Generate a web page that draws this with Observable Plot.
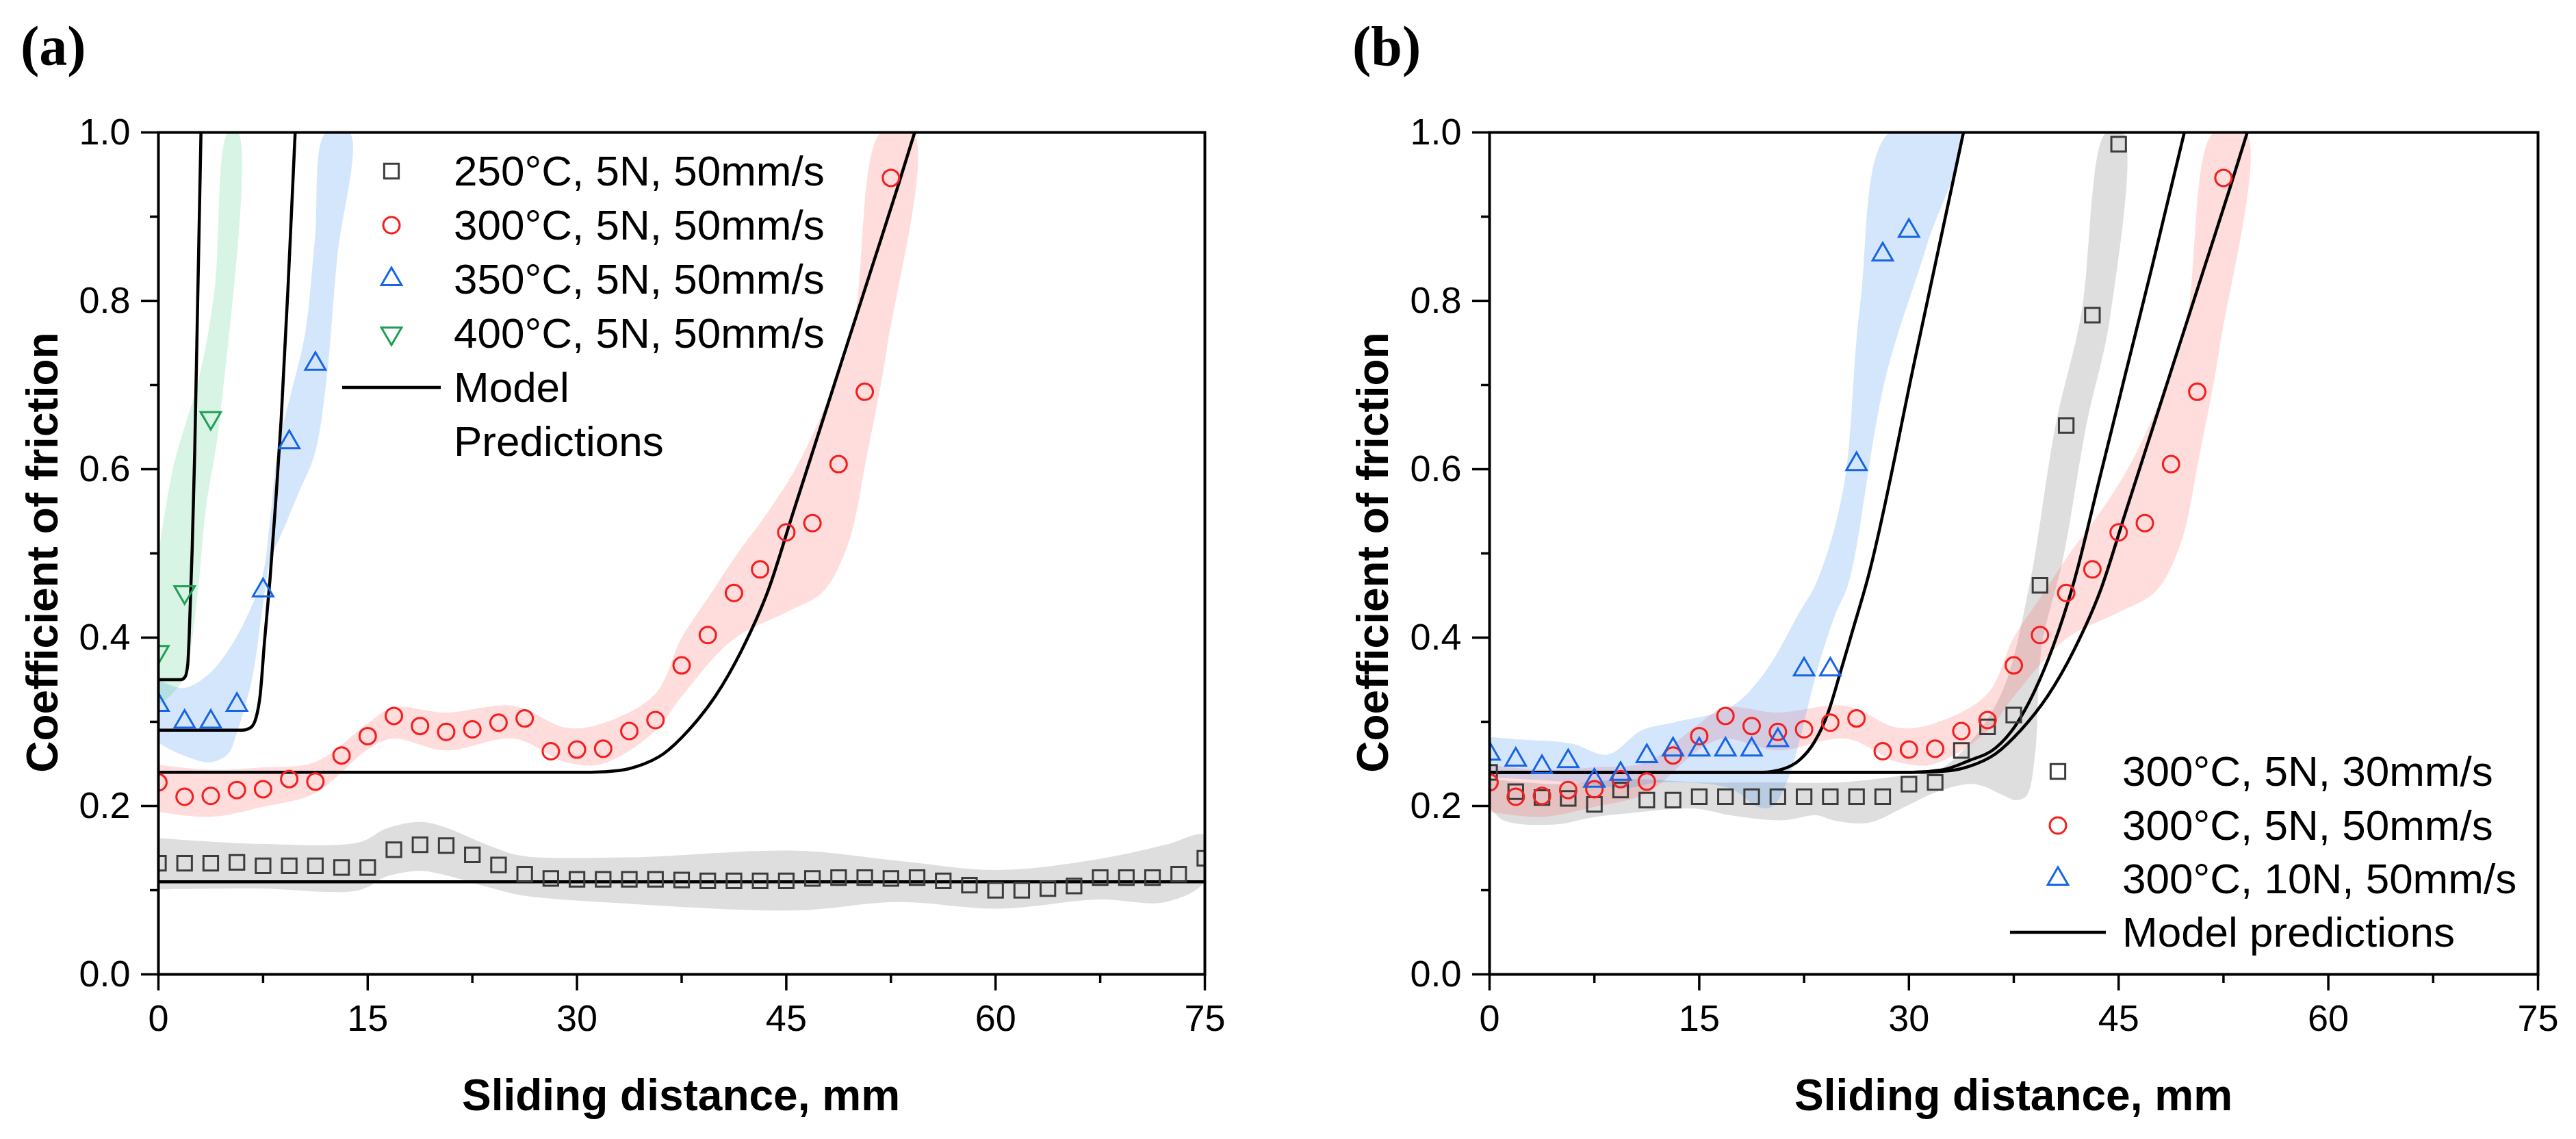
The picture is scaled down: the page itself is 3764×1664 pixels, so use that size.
<!DOCTYPE html>
<html>
<head>
<meta charset="utf-8">
<script src="https://cdn.jsdelivr.net/npm/d3@7"></script>
<script src="https://cdn.jsdelivr.net/npm/@observablehq/plot@0.6"></script>
<style>
  html, body { margin: 0; padding: 0; background: #fff; }
  #root { position: relative; width: 3764px; height: 1664px; overflow: hidden; font-family: "Liberation Sans", Arial, sans-serif; color: #000; }
  .panel { position: absolute; top: 0; }
  .panel svg { overflow: visible; }
  .tag { position: absolute; font-family: "Liberation Serif", "Times New Roman", serif; font-weight: bold; font-size: 82px; line-height: 1; }
  .xtitle, .ytitle { position: absolute; font-weight: bold; font-size: 64px; line-height: 1; white-space: nowrap; }
  .xtitle { transform: translate(-50%, -50%); }
  .ytitle { transform: translate(-50%, -50%) rotate(-90deg); }
  .lgtext { position: absolute; font-size: 62px; line-height: 1; white-space: nowrap; transform: translateY(-50%); }
  .lgsym { position: absolute; overflow: visible; }
</style>
</head>
<body>
<div id="root"></div>
<script>
// ---------------- data ----------------
// sampling positions of the measured points (mm)
const grid = [0, 1.875, 3.75, 5.625, 7.5, 9.375, 11.25, 13.125, 15, 16.875, 18.75, 20.625, 22.5, 24.375, 26.25, 28.125, 30, 31.875, 33.75, 35.625, 37.5, 39.375, 41.25, 43.125, 45, 46.875, 48.75, 50.625, 52.5, 54.375, 56.25, 58.125, 60, 61.875, 63.75, 65.625, 67.5, 69.375, 71.25, 73.125, 75];

// panel (a) measurements
const cof250 = [0.132, 0.132, 0.132, 0.133, 0.129, 0.129, 0.129, 0.127, 0.127, 0.148, 0.154, 0.153, 0.142, 0.130, 0.119, 0.114, 0.113, 0.113, 0.113, 0.113, 0.112, 0.111, 0.111, 0.111, 0.111, 0.114, 0.115, 0.115, 0.114, 0.115, 0.111, 0.106, 0.100, 0.100, 0.102, 0.105, 0.115, 0.115, 0.115, 0.119, 0.138];
const cof300 = [0.228, 0.211, 0.212, 0.219, 0.220, 0.232, 0.229, 0.260, 0.283, 0.307, 0.295, 0.288, 0.291, 0.299, 0.304, 0.265, 0.267, 0.268, 0.289, 0.302, 0.367, 0.403, 0.453, 0.481, 0.525, 0.536, 0.606, 0.692, 0.946];
const cof350 = [0.320, 0.300, 0.300, 0.320, 0.456, 0.632, 0.725];
const cof400 = [0.383, 0.454, 0.661];
// panel (b) measurements (300°C, 5N, 50mm/s re-uses cof300)
const cof30mm = [0.240, 0.217, 0.210, 0.209, 0.202, 0.219, 0.207, 0.207, 0.211, 0.211, 0.211, 0.211, 0.211, 0.211, 0.211, 0.211, 0.226, 0.228, 0.266, 0.294, 0.308, 0.462, 0.652, 0.783, 0.986];
const cof10N = [0.262, 0.255, 0.246, 0.253, 0.230, 0.238, 0.259, 0.267, 0.267, 0.267, 0.267, 0.278, 0.362, 0.362, 0.606, 0.855, 0.883];

// model predictions
const m250X = [0, 75];
const m250Y = [0.11, 0.11];
const m300X = [0, 31, 33, 34.3, 36.2, 38, 39.9, 41.8, 43.7, 45.5, 47.4, 49.3, 51.2, 53, 54.2];
const m300Y = [0.24, 0.24, 0.242, 0.247, 0.262, 0.29, 0.33, 0.385, 0.456, 0.549, 0.647, 0.745, 0.843, 0.936, 1.0];
const m350X = [0, 6.0, 6.6, 7.0, 7.3, 7.6, 8.0, 8.4, 8.8, 9.3, 9.8];
const m350Y = [0.29, 0.29, 0.293, 0.305, 0.333, 0.395, 0.47, 0.56, 0.66, 0.82, 1.0];
const m400X = [0, 1.6, 1.9, 2.1, 2.2, 2.42, 2.6, 3.05];
const m400Y = [0.35, 0.35, 0.353, 0.368, 0.40, 0.506, 0.62, 1.0];
const m30mmX = [0, 30, 32.4, 34.3, 36.2, 37.6, 39, 40.3, 41.8, 43.7, 45.5, 47.4, 49.7];
const m30mmY = [0.24, 0.24, 0.243, 0.254, 0.269, 0.295, 0.337, 0.389, 0.466, 0.593, 0.714, 0.841, 1.0];
const m10NX = [0, 19.5, 21, 22.2, 23.2, 24.2, 25.1, 26, 27.05, 30.5, 33.9];
const m10NY = [0.24, 0.24, 0.244, 0.255, 0.275, 0.31, 0.359, 0.41, 0.47, 0.736, 1.0];

// scatter bands (upper and lower edges)
const b250HiX = [0, 7.2, 14.4, 16.3, 18.7, 20.3, 24, 26, 33.7, 45.7, 53, 60.2, 67.4, 72.2, 75];
const b250HiY = [0.162, 0.155, 0.157, 0.173, 0.181, 0.176, 0.151, 0.141, 0.139, 0.147, 0.135, 0.124, 0.137, 0.154, 0.165];
const b250LoX = [0, 7.2, 14.4, 16.3, 18.7, 20.3, 24, 26, 33.7, 45.7, 53, 60.2, 67.4, 72.2, 75];
const b250LoY = [0.101, 0.102, 0.100, 0.116, 0.123, 0.119, 0.102, 0.094, 0.084, 0.076, 0.086, 0.078, 0.089, 0.086, 0.111];
const b300HiX = [0, 3.7, 7.5, 11.2, 15, 16.8, 20.6, 25.5, 29.2, 31.8, 35.6, 37.5, 39.5, 41.5, 43.5, 45.5, 47.4, 49.7, 51.8];
const b300HiY = [0.249, 0.243, 0.246, 0.252, 0.298, 0.317, 0.311, 0.319, 0.293, 0.298, 0.333, 0.40, 0.45, 0.50, 0.545, 0.596, 0.66, 0.76, 1.0];
const b300LoX = [0, 3.7, 7.5, 11.2, 15, 16.8, 20.6, 25.5, 29.2, 31.8, 35.6, 37.5, 41.2, 45, 47.6, 49.4, 50.8, 52.2, 54.1];
const b300LoY = [0.193, 0.187, 0.199, 0.215, 0.267, 0.280, 0.266, 0.280, 0.252, 0.250, 0.289, 0.33, 0.398, 0.43, 0.454, 0.51, 0.618, 0.742, 1.0];
const b350HiX = [0, 1.8, 3.5, 4.8, 6.2, 7.45, 8.0, 8.6, 9.5, 10.5, 11.2, 12.0];
const b350HiY = [0.35, 0.34, 0.355, 0.38, 0.42, 0.473, 0.54, 0.628, 0.69, 0.76, 0.87, 1.0];
const b350LoX = [0, 1.5, 3.7, 5.0, 5.6, 6.7, 7.5, 8.0, 9.0, 10.0, 11.2, 12.0, 12.8, 13.7];
const b350LoY = [0.275, 0.262, 0.252, 0.262, 0.286, 0.35, 0.44, 0.49, 0.53, 0.57, 0.618, 0.70, 0.85, 1.0];
const b400HiX = [0, 1.1, 2.9, 4.0, 5.0];
const b400HiY = [0.50, 0.605, 0.708, 0.81, 1.0];
const b400LoX = [0, 0.8, 1.75, 2.25, 2.9, 3.4, 4.4, 5.7];
const b400LoY = [0.32, 0.33, 0.35, 0.38, 0.467, 0.553, 0.66, 1.0];
const b30mmHiX = [0, 5, 10, 15, 20, 25, 29, 32, 34.3, 36.7, 38.6, 40.5, 42.3, 44.1];
const b30mmHiY = [0.232, 0.226, 0.232, 0.228, 0.228, 0.228, 0.235, 0.242, 0.274, 0.337, 0.461, 0.653, 0.782, 1.0];
const b30mmLoX = [0, 1, 4.7, 7.2, 9.7, 14.7, 17.2, 20.9, 23.4, 24.6, 27.1, 29.7, 32.2, 34.7, 36.7, 37.6, 38.4, 39.0, 39.5, 41.0, 42.7, 44.4, 45.3];
const b30mmLoY = [0.199, 0.183, 0.178, 0.186, 0.191, 0.197, 0.189, 0.183, 0.189, 0.183, 0.180, 0.199, 0.218, 0.226, 0.213, 0.207, 0.212, 0.258, 0.389, 0.492, 0.653, 0.782, 1.0];
const b10NHiX = [0, 2.2, 5.9, 8.45, 10.9, 13.4, 17.2, 19.7, 22.2, 23.4, 25.3, 26.5, 28.6];
const b10NHiY = [0.282, 0.279, 0.274, 0.261, 0.29, 0.30, 0.317, 0.359, 0.431, 0.466, 0.576, 0.794, 1.0];
const b10NLoX = [0, 3.45, 7.2, 9.7, 12.2, 17.2, 19.2, 20.2, 21.4, 22.2, 23.4, 24.7, 25.7, 28.3, 31.3, 33.6];
const b10NLoY = [0.234, 0.231, 0.226, 0.221, 0.228, 0.221, 0.199, 0.199, 0.234, 0.279, 0.359, 0.426, 0.466, 0.707, 0.867, 1.0];

// axis ticks
const xMajor = [0, 15, 30, 45, 60, 75];
const xMinor = [7.5, 22.5, 37.5, 52.5, 67.5];
const yMajor = [0, 0.2, 0.4, 0.6, 0.8, 1.0];
const yMinor = [0.1, 0.3, 0.5, 0.7, 0.9];

// legend labels
const legendA = ["250°C, 5N, 50mm/s", "300°C, 5N, 50mm/s", "350°C, 5N, 50mm/s", "400°C, 5N, 50mm/s"];
const legendALine = ["Model", "Predictions"];
const legendB = ["300°C, 5N, 30mm/s", "300°C, 5N, 50mm/s", "300°C, 10N, 50mm/s"];
const legendBLine = "Model predictions";

// ---------------- helpers ----------------
const pts = (xs, ys) => ys.map((y, i) => ({x: xs[i], y}));
const poly = (hx, hy, lx, ly) => [...pts(hx, hy), ...pts(lx, ly).reverse()];

const C = {
  gray: "#3c3c3c", red: "#f41f1f", blue: "#1565e6", green: "#1f9e55",
  grayBand: "#9a9a9a", redBand: "#ff4d4d", blueBand: "#3d8bf2", greenBand: "#3cc878"
};

const downTriangle = {
  draw(context, size) {
    const y = -Math.sqrt(size / (Math.sqrt(3) * 3));
    context.moveTo(0, -y * 2);
    context.lineTo(-Math.sqrt(3) * y, y);
    context.lineTo(Math.sqrt(3) * y, y);
    context.closePath();
  }
};

const band = (data, color, op) => Plot.line(data, {x: "x", y: "y", fill: color, fillOpacity: op, stroke: "none", curve: "catmull-rom", clip: true});
const model = (data) => Plot.line(data, {x: "x", y: "y", stroke: "#000", strokeWidth: 4.5, curve: "monotone-x", clip: true});
const dots = (data, symbol, color, r) => Plot.dot(data, {x: "x", y: "y", symbol, stroke: color, strokeWidth: 3, fill: "none", r, clip: true});

const axes = () => [
  Plot.axisX({ticks: xMajor, tickSize: 24, tickPadding: 20, strokeWidth: 3.5, label: null, tickFormat: d => String(d)}),
  Plot.axisX({ticks: xMinor, tickSize: 13, strokeWidth: 3.5, label: null, tickFormat: () => ""}),
  Plot.axisY({ticks: yMajor, tickSize: 25, tickPadding: 16, strokeWidth: 3.5, label: null, tickFormat: d3.format(".1f")}),
  Plot.axisY({ticks: yMinor, tickSize: 12, strokeWidth: 3.5, label: null, tickFormat: () => ""}),
  Plot.frame({stroke: "#000", strokeWidth: 4})
];

const common = {
  height: 1664,
  marginTop: 193,
  marginBottom: 241,
  x: {domain: [0, 75]},
  y: {domain: [0, 1]},
  style: {background: "transparent", fontFamily: "'Liberation Sans', Arial, sans-serif", fontSize: "54px", color: "#000", overflow: "visible"}
};

// ---------------- panel (a) ----------------
const chartA = Plot.plot({
  ...common,
  width: 1880,
  marginLeft: 231,
  marginRight: 120,
  marks: [
    band(poly(b250HiX, b250HiY, b250LoX, b250LoY), C.grayBand, 0.33),
    band(poly(b300HiX, b300HiY, b300LoX, b300LoY), C.redBand, 0.19),
    band(poly(b350HiX, b350HiY, b350LoX, b350LoY), C.blueBand, 0.22),
    band(poly(b400HiX, b400HiY, b400LoX, b400LoY), C.greenBand, 0.2),
    model(pts(m250X, m250Y)),
    model(pts(m300X, m300Y)),
    model(pts(m350X, m350Y)),
    model(pts(m400X, m400Y)),
    dots(pts(grid, cof250), "square", C.gray, 12),
    dots(pts(grid, cof300), "circle", C.red, 12),
    dots(pts(grid, cof350), "triangle", C.blue, 11),
    dots(pts(grid, cof400), downTriangle, C.green, 11),
    ...axes()
  ]
});

// ---------------- panel (b) ----------------
const chartB = Plot.plot({
  ...common,
  width: 1884,
  marginLeft: 296,
  marginRight: 56,
  marks: [
    band(poly(b30mmHiX, b30mmHiY, b30mmLoX, b30mmLoY), C.grayBand, 0.33),
    band(poly(b300HiX, b300HiY, b300LoX, b300LoY), C.redBand, 0.19),
    band(poly(b10NHiX, b10NHiY, b10NLoX, b10NLoY), C.blueBand, 0.22),
    model(pts(m30mmX, m30mmY)),
    model(pts(m300X, m300Y)),
    model(pts(m10NX, m10NY)),
    dots(pts(grid, cof30mm), "square", C.gray, 12),
    dots(pts(grid, cof300), "circle", C.red, 12),
    dots(pts(grid, cof10N), "triangle", C.blue, 11),
    ...axes()
  ]
});

// ---------------- layout ----------------
const root = document.getElementById("root");
const pa = document.createElement("div"); pa.className = "panel"; pa.style.left = "0px"; pa.appendChild(chartA); root.appendChild(pa);
const pb = document.createElement("div"); pb.className = "panel"; pb.style.left = "1880px"; pb.appendChild(chartB); root.appendChild(pb);

function addDiv(cls, text, left, top) {
  const d = document.createElement("div");
  d.className = cls; d.textContent = text;
  d.style.left = left + "px"; d.style.top = top + "px";
  root.appendChild(d);
  return d;
}
addDiv("tag", "(a)", 30, 27);
addDiv("tag", "(b)", 1976, 27);
addDiv("ytitle", "Coefficient of friction", 62, 807);
addDiv("ytitle", "Coefficient of friction", 2006, 807);
addDiv("xtitle", "Sliding distance, mm", 995, 1600);
addDiv("xtitle", "Sliding distance, mm", 2942, 1600);

function symbolSvg(kind, color, cx, cy) {
  const ns = "http://www.w3.org/2000/svg";
  const s = document.createElementNS(ns, "svg");
  s.setAttribute("class", "lgsym");
  s.setAttribute("width", 40); s.setAttribute("height", 40);
  s.style.left = (cx - 20) + "px"; s.style.top = (cy - 20) + "px";
  const p = document.createElementNS(ns, "path");
  const r = kind === "circle" || kind === "square" ? 12 : 11;
  const sym = kind === "square" ? d3.symbolSquare : kind === "circle" ? d3.symbolCircle : kind === "triangle" ? d3.symbolTriangle : downTriangle;
  p.setAttribute("d", d3.symbol(sym, Math.PI * r * r)());
  p.setAttribute("transform", "translate(20,20)");
  p.setAttribute("fill", "none"); p.setAttribute("stroke", color); p.setAttribute("stroke-width", 3);
  s.appendChild(p);
  root.appendChild(s);
}
function lineSvg(x1, x2, y) {
  const ns = "http://www.w3.org/2000/svg";
  const s = document.createElementNS(ns, "svg");
  s.setAttribute("class", "lgsym");
  s.setAttribute("width", x2 - x1); s.setAttribute("height", 10);
  s.style.left = x1 + "px"; s.style.top = (y - 5) + "px";
  const l = document.createElementNS(ns, "line");
  l.setAttribute("x1", 0); l.setAttribute("x2", x2 - x1); l.setAttribute("y1", 5); l.setAttribute("y2", 5);
  l.setAttribute("stroke", "#000"); l.setAttribute("stroke-width", 4.5);
  s.appendChild(l);
  root.appendChild(s);
}

// legend (a)
const kindsA = [["square", C.gray], ["circle", C.red], ["triangle", C.blue], ["down", C.green]];
const rowsA = [250, 329, 408, 487];
legendA.forEach((t, i) => { symbolSvg(kindsA[i][0], kindsA[i][1], 572, rowsA[i]); addDiv("lgtext", t, 663, rowsA[i]); });
lineSvg(500, 644, 566);
addDiv("lgtext", legendALine[0], 663, 566);
addDiv("lgtext", legendALine[1], 663, 645);

// legend (b)
const kindsB = [["square", C.gray], ["circle", C.red], ["triangle", C.blue]];
const rowsB = [1127, 1206, 1284];
legendB.forEach((t, i) => { symbolSvg(kindsB[i][0], kindsB[i][1], 3007, rowsB[i]); addDiv("lgtext", t, 3101, rowsB[i]); });
lineSvg(2937, 3077, 1362);
addDiv("lgtext", legendBLine, 3101, 1362);
</script>
</body>
</html>
